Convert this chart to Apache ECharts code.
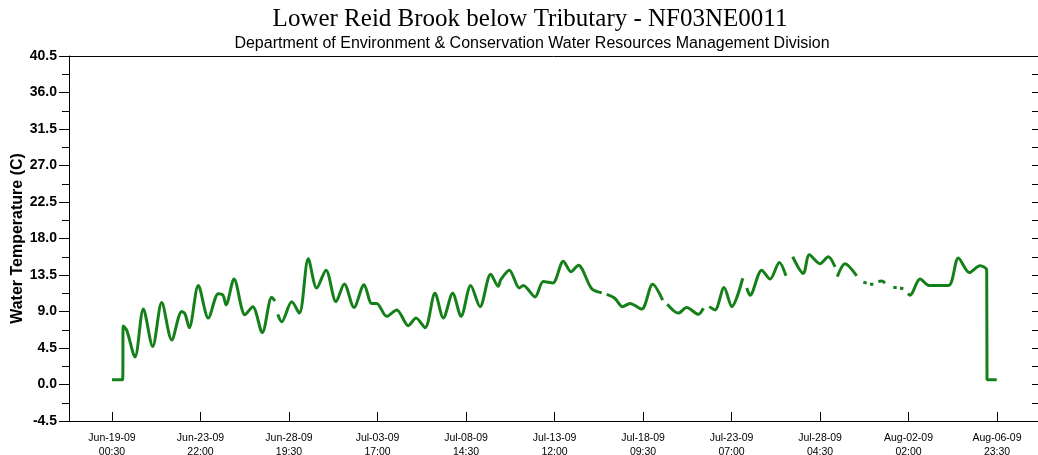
<!DOCTYPE html>
<html>
<head>
<meta charset="utf-8">
<script src="https://cdn.jsdelivr.net/npm/echarts@6/dist/echarts.min.js"></script>
<style>
  html, body { margin: 0; padding: 0; background: #fff; }
  #chart { width: 1038px; height: 455px; }
</style>
</head>
<body>
<div id="chart"></div>
<script>
// Logger record start: Jun-19-09 00:30 (times below are hours after it)
const START_UTC = Date.UTC(2009, 5, 19, 0, 30);

// Hours after start; null values break the line where readings are missing
const hours = [
  0, 14, 15, 19.5, 30.5, 41.6, 54.0, 66.0, 79.3, 92.5, 96.9, 102.6, 114.6, 127.9,
  141.1, 147.4, 151.4, 162.0, 176.6, 186.8, 199.5, 212.0, 216.4, 218,
  220.0, 225.3, 238.6, 248.7, 260.6, 271.8, 284.1, 297.4, 308.4, 321.3, 334.6,
  344.8, 351.4, 364.7, 378.0, 393.4, 403.6, 415.6, 428.8, 439.9, 452.3, 463.4,
  476.2, 488.6, 502.8, 512.9, 516, 527.5, 540.7, 546.1, 561.6, 572.6, 585.1,
  599.2, 609.4, 619.1, 636.9, 650.2, 652,
  656.8, 667.8, 677.8, 687.7, 703.2, 717.8, 731.1, 733,
  737.2, 751.9, 763.0, 778.4, 785.1, 788,
  793.0, 800.6, 812.6, 822.8, 837.4, 839,
  842.7, 847.1, 862.6, 873.6, 886.0, 894.8, 898,
  903.7, 917.8, 925.8, 940.0, 951.0, 959.9, 961,
  962.9, 973.2, 988.7, 992,
  997.5, 1002, 1004,
  1006.4, 1010.8, 1013,
  1017.4, 1022, 1026.3, 1030,
  1037.3, 1041.8, 1044,
  1046.2, 1050.6, 1053,
  1056.8, 1059.5, 1072.8, 1085.2, 1110.5, 1123.7, 1138.3, 1152.4, 1161.3,
  1161.7, 1174.6
];

// Water temperature (C)
const temps = [
  0.6, 0.6, 7.2, 6.7, 3.4, 9.3, 4.7, 10.1, 5.5, 9.0, 8.7, 7.0, 12.2, 8.2,
  11.2, 11.0, 9.8, 13.0, 8.6, 9.6, 6.4, 10.75, 10.3, null,
  8.65, 7.75, 10.2, 8.8, 15.5, 11.9, 14.1, 10.2, 12.4, 9.5, 12.3,
  10.0, 10.0, 8.4, 9.2, 7.25, 8.2, 7.0, 11.25, 8.2, 11.25, 8.4,
  12.2, 9.6, 13.6, 12.1, 12.9, 14.1, 11.9, 12.2, 10.8, 12.7, 12.5,
  15.2, 13.9, 14.7, 11.8, 11.3, null,
  11.1, 10.6, 9.6, 10.0, 9.3, 12.35, 10.4, null,
  9.9, 8.8, 9.5, 8.65, 9.4, null,
  9.6, 9.2, 11.95, 9.6, 13.1, null,
  11.9, 11.0, 14.1, 13.0, 15.05, 13.4, null,
  15.75, 13.7, 16.0, 14.9, 15.75, 14.5, null,
  13.3, 14.9, 13.4, null,
  12.6, 12.5, null,
  12.35, 12.35, null,
  12.7, 12.75, 12.5, null,
  11.95, 11.95, null,
  11.9, 11.8, null,
  11.2, 11.0, 13.0, 12.2, 12.2, 15.6, 13.8, 14.65, 14.1,
  0.6, 0.6
];

// Axis tick positions (hours after start) and temperature scale
const xTickHours = [0, 117.5, 235, 352.5, 470, 587.5, 705, 822.5, 940, 1057.5, 1175];
const xRange = [-57.1, 1229.4];
const yMin = -4.5, yMax = 40.5, yStep = 4.5;

const MONTHS = ['Jan','Feb','Mar','Apr','May','Jun','Jul','Aug','Sep','Oct','Nov','Dec'];
const pad = n => String(n).padStart(2, '0');
function stamp(h) {
  const d = new Date(START_UTC + h * 3600e3);
  return MONTHS[d.getUTCMonth()] + '-' + pad(d.getUTCDate()) + '-' + pad(d.getUTCFullYear() % 100) +
    '\n' + pad(d.getUTCHours()) + ':' + pad(d.getUTCMinutes());
}

const points = hours.map((h, i) => [h, temps[i]]);

const chart = echarts.init(document.getElementById('chart'), null, { renderer: 'canvas' });
chart.setOption({
  animation: false,
  backgroundColor: '#ffffff',
  title: [
    {
      text: 'Lower Reid Brook below Tributary - NF03NE0011',
      left: 525, top: 2, textAlign: 'center',
      textStyle: { fontFamily: 'Liberation Serif', fontSize: 25, fontWeight: 'normal', color: '#000' }
    },
    {
      text: 'Department of Environment & Conservation Water Resources Management Division',
      left: 527, top: 31, textAlign: 'center',
      textStyle: { fontFamily: 'Liberation Sans', fontSize: 16, fontWeight: 'normal', color: '#000' }
    }
  ],
  grid: { left: 69, top: 56, right: 0, bottom: 34, containLabel: false, outerBoundsMode: 'none' },
  xAxis: [
    {
      type: 'value', min: xRange[0], max: xRange[1],
      axisLine: { show: true, onZero: false, lineStyle: { color: '#000', width: 1 } },
      axisTick: { show: true, inside: true, length: 9, customValues: xTickHours, lineStyle: { color: '#000' } },
      axisLabel: {
        show: true, customValues: xTickHours, formatter: v => stamp(v),
        fontFamily: 'Liberation Sans', fontSize: 10.5, color: '#000', lineHeight: 14, margin: 10
      },
      splitLine: { show: false }
    },
    {
      type: 'value', position: 'top', min: xRange[0], max: xRange[1],
      axisLine: { show: true, onZero: false, lineStyle: { color: '#000', width: 1 } },
      axisTick: { show: false }, axisLabel: { show: false }, splitLine: { show: false }
    }
  ],
  yAxis: [
    {
      type: 'value', min: yMin, max: yMax, interval: yStep,
      name: 'Water Temperature (C)', nameLocation: 'middle', nameGap: 43, nameRotate: 90,
      nameMoveOverlap: false,
      nameTextStyle: { fontFamily: 'Liberation Sans', fontSize: 16, fontWeight: 'bold', color: '#000' },
      axisLine: { show: true, onZero: false, lineStyle: { color: '#000', width: 1 } },
      axisTick: { show: true, length: 10, lineStyle: { color: '#000' } },
      minorTick: { show: true, splitNumber: 2, length: 7, lineStyle: { color: '#000' } },
      axisLabel: {
        formatter: v => v.toFixed(1), margin: 12,
        fontFamily: 'Liberation Sans', fontSize: 14, fontWeight: 'bold', color: '#000'
      },
      splitLine: { show: false }, minorSplitLine: { show: false }
    },
    {
      type: 'value', position: 'right', min: yMin, max: yMax, interval: yStep,
      axisLine: { show: false, onZero: false },
      axisTick: { show: true, inside: true, length: 6, lineStyle: { color: '#000' } },
      minorTick: { show: true, splitNumber: 2, length: 6, lineStyle: { color: '#000' } },
      axisLabel: { show: false }, splitLine: { show: false }
    }
  ],
  series: [{
    type: 'line',
    data: points,
    xAxisIndex: 0, yAxisIndex: 0,
    showSymbol: false,
    connectNulls: false,
    smooth: 0.3,
    lineStyle: { color: '#15801a', width: 3 },
    itemStyle: { color: '#15801a' }
  }]
});
</script>
</body>
</html>
